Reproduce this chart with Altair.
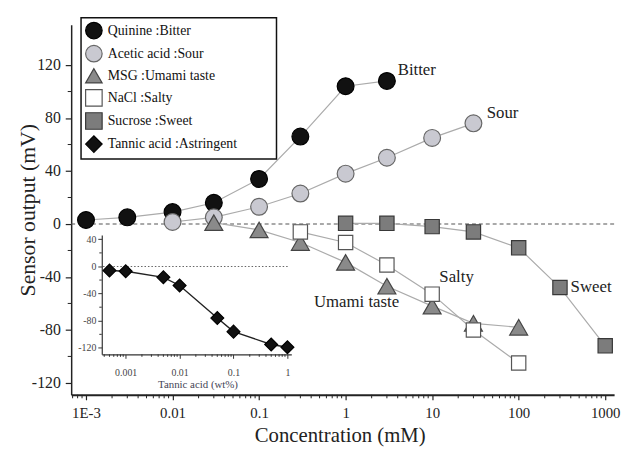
import altair as alt
import pandas as pd

SERIF = "Liberation Serif"

# ---------------- data ----------------
series_labels = ["Quinine :Bitter", "Acetic acid :Sour", "MSG :Umami taste",
                 "NaCl :Salty", "Sucrose :Sweet", "Tannic acid :Astringent"]

quinine_x = [0.001, 0.003, 0.01, 0.03, 0.1, 0.3, 1, 3]
quinine_y = [3, 5, 9, 16, 34, 66, 104, 108]

acetic_x = [0.01, 0.03, 0.1, 0.3, 1, 3, 10, 30]
acetic_y = [1.5, 5, 13, 23, 38, 50, 65, 76]

msg_x = [0.03, 0.1, 0.3, 1, 3, 10, 30, 100]
msg_y = [1, -4.5, -14, -29, -47, -62, -75, -78]

nacl_x = [0.3, 1, 3, 10, 30, 100]
nacl_y = [-6, -14, -31, -53, -80, -105]

sucrose_x = [1, 3, 10, 30, 100, 300, 1000]
sucrose_y = [0.5, 0.5, -2, -6, -18, -48, -92]

tannic_x = [0.0005, 0.001, 0.005, 0.01, 0.05, 0.1, 0.5, 1]
tannic_y = [-6, -7, -16, -28, -76, -96, -115, -119]

note_labels = ["Bitter", "Sour", "Salty", "Umami taste", "Sweet"]
note_x = [4.0, 42.8, 12.1, 0.431, 398]
note_y = [116, 83.5, -40, -59, -47.7]

x_major = [0.001, 0.01, 0.1, 1, 10, 100, 1000]
x_minor = [k * 10.0 ** e for e in range(-4, 3) for k in range(2, 10)
           if 0.000674 < k * 10.0 ** e < 1267]
y_major = [-120, -80, -40, 0, 40, 80, 120]
y_minor = [-100, -60, -20, 20, 60, 100]

in_x_major = [0.001, 0.01, 0.1, 1]
in_x_minor = [k * 10.0 ** e for e in range(-4, 0) for k in range(2, 10)
              if 0.00036 < k * 10.0 ** e < 1.0]
in_y_major = [40, 0, -40, -80, -120]
in_y_minor = [20, -20, -60, -100]

# ---------------- tables ----------------
rows = []
for lab, xs, ys in [(series_labels[0], quinine_x, quinine_y),
                    (series_labels[1], acetic_x, acetic_y),
                    (series_labels[2], msg_x, msg_y),
                    (series_labels[3], nacl_x, nacl_y),
                    (series_labels[4], sucrose_x, sucrose_y)]:
    rows += [{"series": lab, "x": a, "y": b} for a, b in zip(xs, ys)]
main_df = pd.DataFrame(rows)
tan_df = pd.DataFrame({"series": series_labels[5], "x": tannic_x, "y": tannic_y})
note_df = pd.DataFrame({"label": note_labels, "x": note_x, "y": note_y})

# ---------------- scales ----------------
# trailing non-breaking spaces (kept by a zero-width char) widen the legend box
legend = alt.Legend(orient="none", legendX=10, legendY=-7, title=None,
                    labelExpr="datum.label + '" + "\u00a0" * 10 + "\u200b'",
                    strokeColor="#111", fillColor="white", padding=4,
                    labelFont=SERIF, labelFontSize=14, labelColor="#111",
                    labelLimit=400, labelOffset=5, symbolSize=280,
                    symbolStrokeWidth=1.2, rowPadding=1.4, symbolOpacity=1)
shape_scale = alt.Scale(domain=series_labels,
                        range=["circle", "circle", "triangle-up", "square", "square", "diamond"])
fill_scale = alt.Scale(domain=series_labels,
                       range=["#111111", "#c9c9d1", "#8a8a8a", "#ffffff", "#7c7c7c", "#111111"])
stroke_scale = alt.Scale(domain=series_labels,
                         range=["#000000", "#666666", "#444444", "#555555", "#383838", "#000000"])

SHAPE = alt.Shape("series:N", scale=shape_scale, legend=legend)
FILL = alt.Fill("series:N", scale=fill_scale, legend=legend)
STROKE = alt.Stroke("series:N", scale=stroke_scale, legend=legend)

X_MAIN = alt.X("x:Q", scale=alt.Scale(type="log", domain=[0.000674, 1267], nice=False),
               axis=alt.Axis(orient="bottom", values=x_major, grid=False,
                             labelExpr="datum.value < 0.002 ? '1E-3' : format(datum.value, '~g')",
                             tickSize=5, tickWidth=1.2, tickColor="#222", domainColor="#222",
                             domainWidth=2, labelFont=SERIF, labelFontSize=15, labelColor="#222",
                             labelPadding=6, labelFlush=False,
                             title="Concentration (mM)", titleFont=SERIF, titleFontSize=21,
                             titleFontWeight="normal", titleColor="#222",
                             titleX=272, titleY=41, titleBaseline="middle"))
Y_MAIN = alt.Y("y:Q", scale=alt.Scale(domain=[-129, 150.5], nice=False, zero=False),
               axis=alt.Axis(orient="left", values=y_major, grid=False,
                             labelExpr="datum.value + ''",
                             tickSize=6, tickWidth=1.2, tickColor="#222", domainColor="#222",
                             domainWidth=1.5, labelFont=SERIF, labelFontSize=16, labelColor="#222",
                             labelPadding=5,
                             title="Sensor output (mV)", titleFont=SERIF, titleFontSize=22,
                             titleFontWeight="normal", titleColor="#222", titlePadding=-8))

X_IN = alt.X("x:Q", scale=alt.Scale(type="log", domain=[0.00036, 1.18], range=[31, 223], nice=False),
             axis=alt.Axis(orient="bottom", offset=-41, values=in_x_major, grid=False,
                           labelExpr="format(datum.value, '~g')",
                           tickSize=4, tickWidth=1, tickColor="#333", domainColor="#333",
                           domainWidth=1.2, labelFont=SERIF, labelFontSize=10, labelColor="#444",
                           labelPadding=9, labelFlush=False,
                           title="Tannic acid (wt%)", titleFont=SERIF, titleFontSize=11,
                           titleFontWeight="normal", titleColor="#445",
                           titleX=128, titleY=31, titleBaseline="middle"))
Y_IN = alt.Y("y:Q", scale=alt.Scale(domain=[-129.5, 46.5], range=[334, 213], nice=False, zero=False),
             axis=alt.Axis(orient="left", offset=-31, values=in_y_major, grid=False,
                           labelExpr="datum.value + ''",
                           tickSize=4, tickWidth=1, tickColor="#333", domainColor="#333",
                           domainWidth=1.2, labelFont=SERIF, labelFontSize=10, labelColor="#444",
                           labelPadding=2, title=None))

# ---------------- main panel ----------------
zero_main = alt.Chart(pd.DataFrame({"y": [0]})).mark_rule(
    color="#555", strokeDash=[4, 3], strokeWidth=1.2).encode(y=Y_MAIN)
xminor_main = alt.Chart(pd.DataFrame({"x": x_minor})).mark_rule(
    color="#222", strokeWidth=1).encode(x=X_MAIN, y=alt.value(375), y2=alt.value(378.5))
yminor_main = alt.Chart(pd.DataFrame({"y": y_minor})).mark_rule(
    color="#222", strokeWidth=1).encode(y=Y_MAIN, x=alt.value(-3.5), x2=alt.value(0))
lines_main = alt.Chart(main_df).mark_line(color="#ababab", strokeWidth=1.2).encode(
    x=X_MAIN, y=Y_MAIN, detail="series:N")


def point_layer(df, names, size):
    return alt.Chart(df).transform_filter(
        alt.FieldOneOfPredicate(field="series", oneOf=names)
    ).mark_point(filled=True, opacity=1, strokeWidth=1.2, size=size).encode(
        x=X_MAIN if df is main_df else X_IN,
        y=Y_MAIN if df is main_df else Y_IN,
        shape=SHAPE, fill=FILL, stroke=STROKE)


circles = point_layer(main_df, series_labels[0:2], 290)
triangles = point_layer(main_df, series_labels[2:3], 330)
squares = point_layer(main_df, series_labels[3:5], 210)
notes = alt.Chart(note_df).mark_text(align="left", baseline="middle", font=SERIF,
                                     fontSize=17, color="#222").encode(
    x=X_MAIN, y=Y_MAIN, text="label:N")
main = alt.layer(zero_main, xminor_main, yminor_main, lines_main,
                 circles, triangles, squares, notes)

# ---------------- inset ----------------
zero_in = alt.Chart(pd.DataFrame({"x": [0.00038], "x2": [1.05], "y": [0]})).mark_rule(
    color="#666", strokeDash=[1.5, 2], strokeWidth=1.2).encode(x=X_IN, x2="x2:Q", y=Y_IN)
xminor_in = alt.Chart(pd.DataFrame({"x": in_x_minor})).mark_rule(
    color="#333", strokeWidth=1).encode(x=X_IN, y=alt.value(334), y2=alt.value(336.5))
yminor_in = alt.Chart(pd.DataFrame({"y": in_y_minor})).mark_rule(
    color="#333", strokeWidth=1).encode(y=Y_IN, x=alt.value(28.5), x2=alt.value(31))
line_in = alt.Chart(tan_df).mark_line(color="#222", strokeWidth=1.4).encode(x=X_IN, y=Y_IN)
diamonds = point_layer(tan_df, series_labels[5:6], 170)
inset = alt.layer(zero_in, xminor_in, yminor_in, line_in, diamonds)

chart = alt.layer(main, inset).resolve_scale(x="independent", y="independent").properties(
    width=550, height=375,
    autosize=alt.AutoSizeParams(type="none"),
    padding={"left": 64, "top": 14, "right": 8, "bottom": 52},
    background="white",
).configure_view(stroke=None).configure_legend(strokeWidth=1.5)

chart.save("out.html", embed_options={"renderer": "svg", "actions": False})
